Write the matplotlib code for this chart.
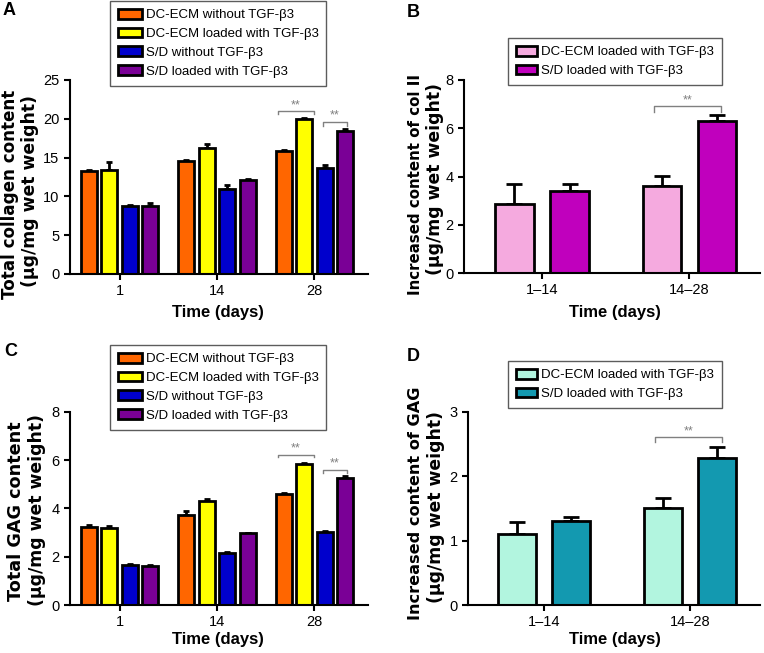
import matplotlib
matplotlib.use("Agg")
import matplotlib.pyplot as plt
import numpy as np

plt.rcParams['font.family'] = ['Liberation Sans', 'DejaVu Sans']

# ---- data ----
days = ['1', '14', '28']
periods = ['1\u201314', '14\u201328']

four_labels = ['DC-ECM without TGF-\u03b23', 'DC-ECM loaded with TGF-\u03b23',
               'S/D without TGF-\u03b23', 'S/D loaded with TGF-\u03b23']
two_labels = ['DC-ECM loaded with TGF-\u03b23', 'S/D loaded with TGF-\u03b23']

# A: total collagen
col_mean = [[13.3, 14.6, 15.9],
            [13.4, 16.3, 20.0],
            [8.8, 10.95, 13.7],
            [8.75, 12.1, 18.4]]
col_err = [[0.1, 0.1, 0.1],
           [1.0, 0.4, 0.1],
           [0.15, 0.5, 0.3],
           [0.35, 0.1, 0.3]]

# B: increased col II
col2_mean = [[2.87, 3.61],
             [3.42, 6.32]]
col2_err = [[0.81, 0.42],
            [0.29, 0.23]]

# C: total GAG
gag_mean = [[3.24, 3.72, 4.58],
            [3.20, 4.29, 5.86],
            [1.66, 2.17, 3.03],
            [1.63, 2.97, 5.27]]
gag_err = [[0.06, 0.17, 0.06],
           [0.08, 0.1, 0.03],
           [0.05, 0.04, 0.05],
           [0.02, 0.03, 0.08]]

# D: increased GAG
gag2_mean = [[1.10, 1.51],
             [1.31, 2.29]]
gag2_err = [[0.19, 0.15],
             [0.05, 0.17]]

four_colors = ['#FF6600', '#FFFF00', '#0000CC', '#7A0096']
col2_colors = ['#F5AADF', '#C000BD']
gag2_colors = ['#B2F5DF', '#1399B0']

W, H = 764, 653


def bar_panel(ax, means, errs, colors, labels, ticks, step, width, capsize):
    n = len(means)
    x = np.arange(len(ticks))
    pos = []
    for i in range(n):
        p = x + (i - (n - 1) / 2) * step
        pos.append(p)
        ax.bar(p, means[i], width, color=colors[i], edgecolor='black',
               linewidth=2, label=labels[i], zorder=2)
        ax.errorbar(p, means[i], yerr=[np.zeros(len(ticks)), errs[i]],
                    fmt='none', ecolor='black', elinewidth=2,
                    capsize=capsize, capthick=2, zorder=1)
    ax.set_xticks(x)
    ax.set_xticklabels(ticks)
    for s in ['top', 'right']:
        ax.spines[s].set_visible(False)
    for s in ['left', 'bottom']:
        ax.spines[s].set_linewidth(1.5)
    ax.tick_params(width=1.5, length=4, labelsize=10.5)
    return pos


def bracket(ax, x0, x1, y, drop, fs=9):
    ax.plot([x0, x0, x1, x1], [y - drop, y, y, y - drop], color='#808080', lw=1)
    ax.text((x0 + x1) / 2, y, '**', ha='center', va='bottom', color='#808080',
            fontsize=fs)


def legend(ax, anchor, hl):
    leg = ax.legend(loc='upper left', bbox_to_anchor=anchor,
                    bbox_transform=ax.figure.transFigure, fontsize=9.5,
                    frameon=True, fancybox=False, edgecolor='#333333',
                    handlelength=hl, handleheight=0.75, labelspacing=0.48,
                    borderpad=0.6, handletextpad=0.3, borderaxespad=0)
    leg.get_frame().set_linewidth(1)
    return leg


def ylabel2(line1, size1, x1, y1, x2, y2, size2=12.4):
    # two-line y label, each line placed in pixel coords
    fig.text(x1 / W, 1 - y1 / H, line1, rotation=90, ha='center', va='center',
             fontsize=size1, fontweight='bold', family='DejaVu Sans')
    fig.text(x2 / W, 1 - y2 / H, '(\u00b5g/mg wet weight)', rotation=90,
             ha='center', va='center', fontsize=size2, fontweight='bold',
             family='DejaVu Sans')


fig = plt.figure(figsize=(7.64, 6.53), dpi=100)

axA = fig.add_axes([0.0916, 0.5804, 0.390, 0.2971])
axB = fig.add_axes([0.6073, 0.5819, 0.3875, 0.2956])
axC = fig.add_axes([0.0916, 0.0735, 0.390, 0.2956])
axD = fig.add_axes([0.6126, 0.0735, 0.3822, 0.2956])

# A
pA = bar_panel(axA, col_mean, col_err, four_colors, four_labels, days, 0.21, 0.165, 2.5)
axA.set_xlim(-0.51, 2.55)
axA.set_ylim(0, 25)
axA.set_yticks([0, 5, 10, 15, 20, 25])
bracket(axA, pA[0][2] - 0.06, pA[1][2] + 0.1, 21.0, 0.4)
bracket(axA, pA[2][2] - 0.02, pA[3][2] + 0.02, 19.6, 0.5)
legend(axA, (110 / W, 1 - 1 / H), 1.8)
ylabel2('Total collagen content', 12.1, 10.5, 194, 30.5, 191)

# B
pB = bar_panel(axB, col2_mean, col2_err, col2_colors, two_labels, periods, 0.374, 0.26, 6)
axB.set_xlim(-0.53, 1.48)
axB.set_ylim(0, 8)
axB.set_yticks([0, 2, 4, 6, 8])
bracket(axB, pB[0][1] - 0.05, pB[1][1] + 0.03, 6.92, 0.25)
legend(axB, (508 / W, 1 - 38 / H), 1.6)
ylabel2('Increased content of col II', 10.8, 416, 184, 435, 179)

# C
pC = bar_panel(axC, gag_mean, gag_err, four_colors, four_labels, days, 0.21, 0.165, 2.5)
axC.set_xlim(-0.51, 2.55)
axC.set_ylim(0, 8)
axC.set_yticks([0, 2, 4, 6, 8])
bracket(axC, pC[0][2] - 0.06, pC[1][2] + 0.1, 6.23, 0.11)
bracket(axC, pC[2][2] - 0.02, pC[3][2] + 0.02, 5.61, 0.12)
legend(axC, (110 / W, 1 - 345 / H), 1.8)
ylabel2('Total GAG content', 12.7, 16, 511, 37, 510)

# D
pD = bar_panel(axD, gag2_mean, gag2_err, gag2_colors, two_labels, periods, 0.374, 0.26, 6)
axD.set_xlim(-0.52, 1.48)
axD.set_ylim(0, 3)
axD.set_yticks([0, 1, 2, 3])
bracket(axD, pD[0][1] - 0.05, pD[1][1] + 0.03, 2.61, 0.08)
legend(axD, (508 / W, 1 - 361 / H), 1.6)
ylabel2('Increased content of GAG', 11.6, 416, 503, 436, 507)

for ax, xly, xlx in [(axA, -0.16, 0.497), (axB, -0.166, 0.51),
                     (axC, -0.14, 0.497), (axD, -0.14, 0.503)]:
    ax.set_xlabel('Time (days)', fontsize=12, fontweight='bold')
    ax.xaxis.set_label_coords(xlx, xly)
    ax.xaxis.label.set_va('top')

# panel letters
for txt, x, y in [('A', 0.003, 0.997), ('B', 0.533, 0.994), ('C', 0.006, 0.474),
                  ('D', 0.533, 0.467)]:
    fig.text(x, y, txt, fontsize=13, fontweight='bold', ha='left', va='top')

fig.savefig('out.png', dpi=100)
